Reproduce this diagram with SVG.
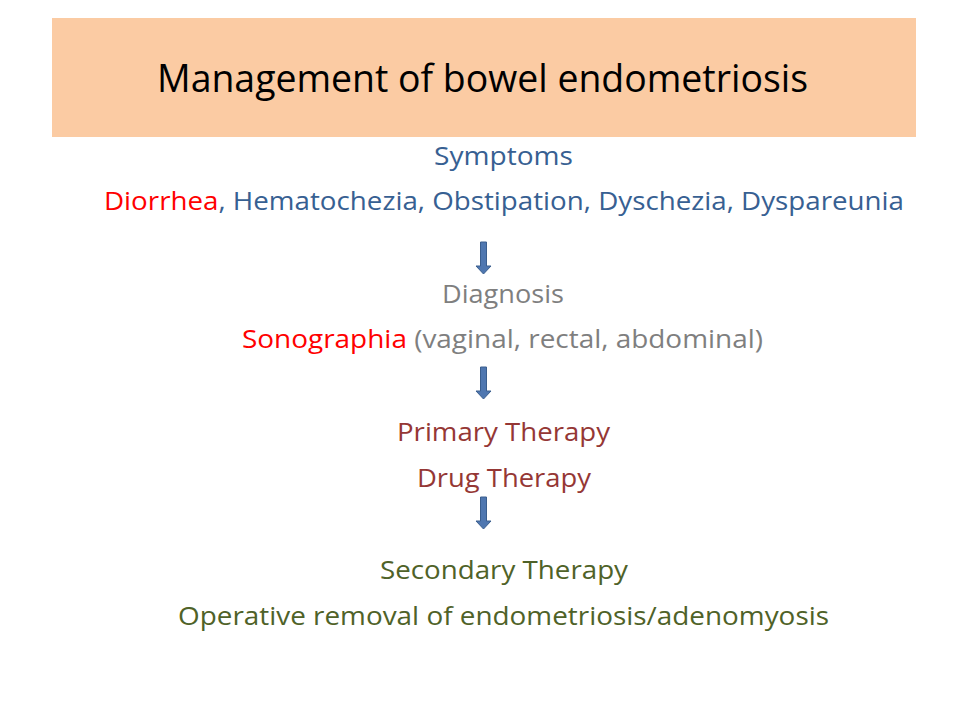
<svg xmlns="http://www.w3.org/2000/svg" width="960" height="720" viewBox="0 0 960 720">
  <style>
    text { font-family: "Open Sans", "Liberation Sans", sans-serif; font-size: 26px; text-anchor: middle; }
    .title { font-size: 38px; fill: #000; }
    .blue { fill: #376092; }
    .red { fill: #FF0000; }
    .gray { fill: #7F7F7F; }
    .dred { fill: #953735; }
    .green { fill: #4F6228; }
    .arrow { fill: #4F77B0; stroke: #3A5E8E; stroke-width: 1; }
  </style>
  <defs>
    <path id="arr" d="M -3 0 L 3 0 L 3 24 L 7.5 24 L 0 32 L -7.5 24 L -3 24 Z"/>
  </defs>
  <rect width="960" height="720" fill="#FFFFFF"/>
  <g id="header">
    <rect x="52" y="18" width="864" height="119" fill="#FBCBA3"/>
    <text class="title" x="482.5" y="92" textLength="651" lengthAdjust="spacingAndGlyphs">Management of bowel endometriosis</text>
  </g>
  <g id="symptoms">
    <text class="blue" x="503.5" y="165" textLength="139" lengthAdjust="spacingAndGlyphs">Symptoms</text>
    <text x="504" y="210" textLength="800" lengthAdjust="spacingAndGlyphs"><tspan class="red">Diorrhea</tspan><tspan class="blue">, Hematochezia, Obstipation, Dyschezia, Dyspareunia</tspan></text>
  </g>
  <g id="diagnosis">
    <text class="gray" x="503" y="303" textLength="122" lengthAdjust="spacingAndGlyphs">Diagnosis</text>
    <text x="502.5" y="348" textLength="521" lengthAdjust="spacingAndGlyphs"><tspan class="red">Sonographia</tspan><tspan class="gray"> (vaginal, rectal, abdominal)</tspan></text>
  </g>
  <g id="primary-therapy">
    <text class="dred" x="503.5" y="441" textLength="213" lengthAdjust="spacingAndGlyphs">Primary Therapy</text>
    <text class="dred" x="504" y="487" textLength="174" lengthAdjust="spacingAndGlyphs">Drug Therapy</text>
  </g>
  <g id="secondary-therapy">
    <text class="green" x="504" y="579" textLength="248" lengthAdjust="spacingAndGlyphs">Secondary Therapy</text>
    <text class="green" x="503.5" y="625" textLength="651" lengthAdjust="spacingAndGlyphs">Operative removal of endometriosis/adenomyosis</text>
  </g>
  <g id="connectors">
    <use href="#arr" class="arrow" x="483.5" y="242"/>
    <use href="#arr" class="arrow" x="483.5" y="367"/>
    <use href="#arr" class="arrow" x="483.5" y="497"/>
  </g>
</svg>
